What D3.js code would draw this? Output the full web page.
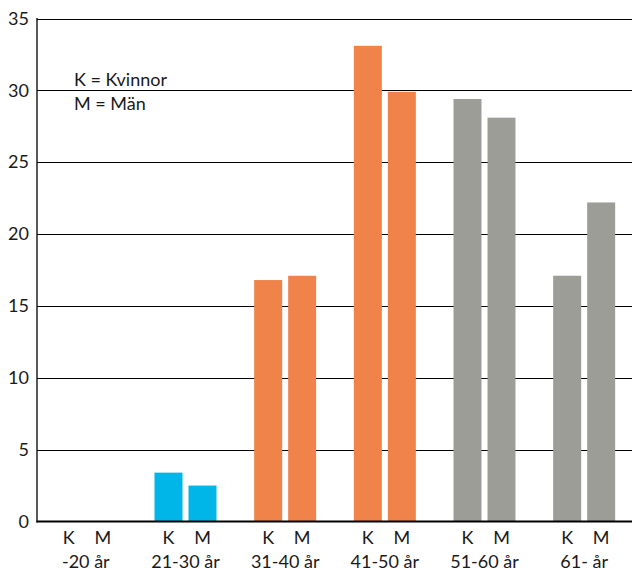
<!DOCTYPE html>
<html><head><meta charset="utf-8">
<script src="https://cdn.jsdelivr.net/npm/d3@7"></script>
<style>body{margin:0;background:#fff}svg{display:block}text{font-family:Lato,"Open Sans",sans-serif;fill:#1a1a1a}</style>
</head><body><svg id="c" width="632" height="570"></svg>
<script>
const groups = ["-20 år","21-30 år","31-40 år","41-50 år","51-60 år","61- år"];
const genders = ["K","M"];
const kvinnor = [0, 3.4, 16.8, 33.1, 29.4, 17.1];
const man = [0, 2.5, 17.1, 29.9, 28.1, 22.2];
const groupColors = ["#00b5e8","#00b5e8","#ef8349","#ef8349","#9d9d98","#9d9d98"];
const yTicks = [0,5,10,15,20,25,30,35];
const legendLines = ["K = Kvinnor","M = Män"];

const FS = 18;
const svg = d3.select("#c");
const y = d3.scaleLinear().domain([0,35]).range([521.5,18.5]);
const x = d3.scaleBand().domain(groups).range([36,634]).padding(0);
const xi = d3.scaleBand().domain(genders).range([0,x.bandwidth()]).paddingInner(6/34).paddingOuter(0.554);

// gridlines
svg.append("g").selectAll("line").data(yTicks.filter(d=>d>0)).join("line")
  .attr("x1",37).attr("x2",632).attr("y1",d=>Math.round(y(d))+0.5).attr("y2",d=>Math.round(y(d))+0.5)
  .attr("stroke","#000").attr("stroke-width",1.2);

// bars
const data = [];
groups.forEach((g,i)=>{
  data.push({g, s:"K", v:kvinnor[i], c:groupColors[i]});
  data.push({g, s:"M", v:man[i], c:groupColors[i]});
});
svg.append("g").selectAll("rect").data(data).join("rect")
  .attr("x",d=>x(d.g)+xi(d.s)).attr("width",xi.bandwidth())
  .attr("y",d=>y(d.v)).attr("height",d=>y(0)-y(d.v))
  .attr("fill",d=>d.c);

// y axis
const yAxis = d3.axisLeft(y).tickValues(yTicks).tickSize(0).tickPadding(8);
const ga = svg.append("g").attr("transform","translate(37,0)").call(yAxis);
ga.select(".domain").remove();
ga.selectAll("text").attr("font-size",FS).style("font-family","Lato, 'Open Sans', sans-serif").attr("fill","#1a1a1a");
svg.append("line").attr("x1",37).attr("x2",37).attr("y1",18).attr("y2",522.5).attr("stroke","#000").attr("stroke-width",1.3);
svg.append("line").attr("x1",36.5).attr("x2",632).attr("y1",521.5).attr("y2",521.5).attr("stroke","#000").attr("stroke-width",2);

// x labels
const xg = svg.append("g");
groups.forEach(g=>{
  genders.forEach(s=>{
    xg.append("text").attr("x",x(g)+xi(s)+xi.bandwidth()/2).attr("y",544)
      .attr("text-anchor","middle").attr("font-size",FS).text(s);
  });
  xg.append("text").attr("x",x(g)+x.bandwidth()/2).attr("y",567.5)
    .attr("text-anchor","middle").attr("font-size",FS).text(g);
});

// legend
svg.append("g").selectAll("text").data(legendLines).join("text")
  .attr("x",74).attr("y",(d,i)=>86+i*24).attr("font-size",FS).text(d=>d);
</script></body></html>
